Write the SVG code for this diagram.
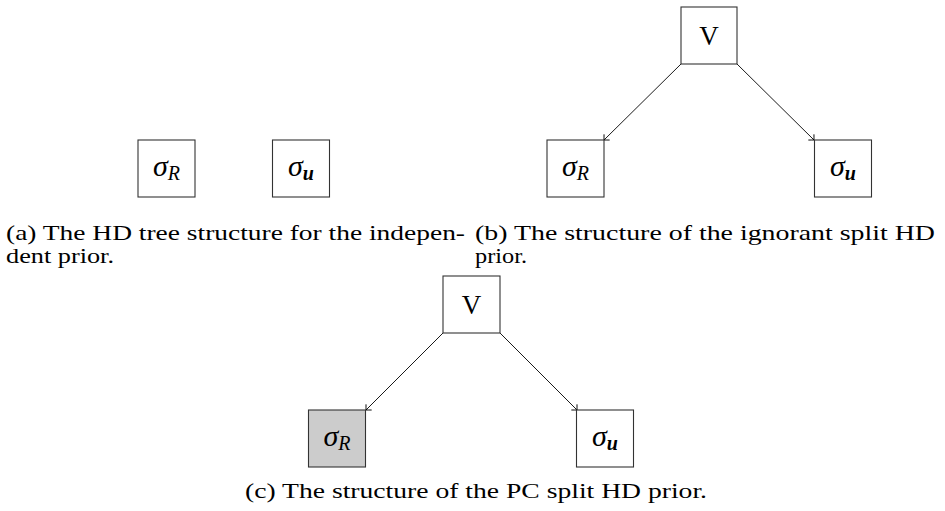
<svg xmlns="http://www.w3.org/2000/svg" width="945" height="511" viewBox="0 0 945 511">
<style>
.box{fill:#fff;stroke:#333;stroke-width:1.1}
.shaded{fill:#cccccc}
text{font-family:'Liberation Serif','Times New Roman',Times,serif;fill:#000}
.lbl{font-size:30px}
.sig{font-style:italic}
.sub{font-size:20px;font-style:italic}
.subb{font-size:20px;font-style:italic;font-weight:bold}
.v{font-size:27px}
.cap{font-size:22px}
.edge{stroke:#000;stroke-width:0.9;fill:none;marker-end:url(#to)}
</style>
<defs>
<marker id="to" markerUnits="userSpaceOnUse" markerWidth="12" markerHeight="12" refX="0" refY="0" viewBox="-6 -6 12 12" orient="auto" overflow="visible">
<path d="M-4,-4 Q-1,-1 0,0 Q-1,1 -4,4" fill="none" stroke="#000" stroke-width="0.9"/>
</marker>
</defs>

<g id="connectors">
<line class="edge" x1="681" y1="64" x2="604" y2="140"/>
<line class="edge" x1="737" y1="64" x2="814" y2="140"/>
<line class="edge" x1="443" y1="333" x2="366" y2="410"/>
<line class="edge" x1="500" y1="333" x2="577" y2="410"/>
</g>

<g id="a-sigmaR">
<rect class="box" x="138" y="140" width="57" height="57"/>
<text class="lbl" x="166.5" y="176" text-anchor="middle"><tspan class="sig">σ</tspan><tspan class="sub" dy="4">R</tspan></text>
</g>
<g id="a-sigmaU">
<rect class="box" x="272.5" y="140" width="57" height="57"/>
<text class="lbl" x="301" y="176" text-anchor="middle"><tspan class="sig">σ</tspan><tspan class="subb" dy="4">u</tspan></text>
</g>

<g id="b-V">
<rect class="box" x="681" y="7" width="56" height="57"/>
<text class="v" x="709" y="45" text-anchor="middle">V</text>
</g>
<g id="b-sigmaR">
<rect class="box" x="547" y="140" width="57" height="57"/>
<text class="lbl" x="575.5" y="176" text-anchor="middle"><tspan class="sig">σ</tspan><tspan class="sub" dy="4">R</tspan></text>
</g>
<g id="b-sigmaU">
<rect class="box" x="814.5" y="140" width="57" height="57"/>
<text class="lbl" x="843" y="176" text-anchor="middle"><tspan class="sig">σ</tspan><tspan class="subb" dy="4">u</tspan></text>
</g>

<g id="c-V">
<rect class="box" x="443" y="276" width="57" height="57"/>
<text class="v" x="471.5" y="314" text-anchor="middle">V</text>
</g>
<g id="c-sigmaR">
<rect class="box shaded" x="308.5" y="410" width="57" height="57"/>
<text class="lbl" x="337" y="446" text-anchor="middle"><tspan class="sig">σ</tspan><tspan class="sub" dy="4">R</tspan></text>
</g>
<g id="c-sigmaU">
<rect class="box" x="576.5" y="410" width="57" height="57"/>
<text class="lbl" x="605" y="446" text-anchor="middle"><tspan class="sig">σ</tspan><tspan class="subb" dy="4">u</tspan></text>
</g>

<g id="captions">
<text class="cap" x="6" y="240" textLength="459" lengthAdjust="spacingAndGlyphs">(a) The HD tree structure for the indepen-</text>
<text class="cap" x="6" y="263" textLength="108" lengthAdjust="spacingAndGlyphs">dent prior.</text>
<text class="cap" x="475" y="240" textLength="460" lengthAdjust="spacingAndGlyphs">(b) The structure of the ignorant split HD</text>
<text class="cap" x="475" y="263" textLength="52" lengthAdjust="spacingAndGlyphs">prior.</text>
<text class="cap" x="245" y="498" textLength="462" lengthAdjust="spacingAndGlyphs">(c) The structure of the PC split HD prior.</text>
</g>
</svg>
